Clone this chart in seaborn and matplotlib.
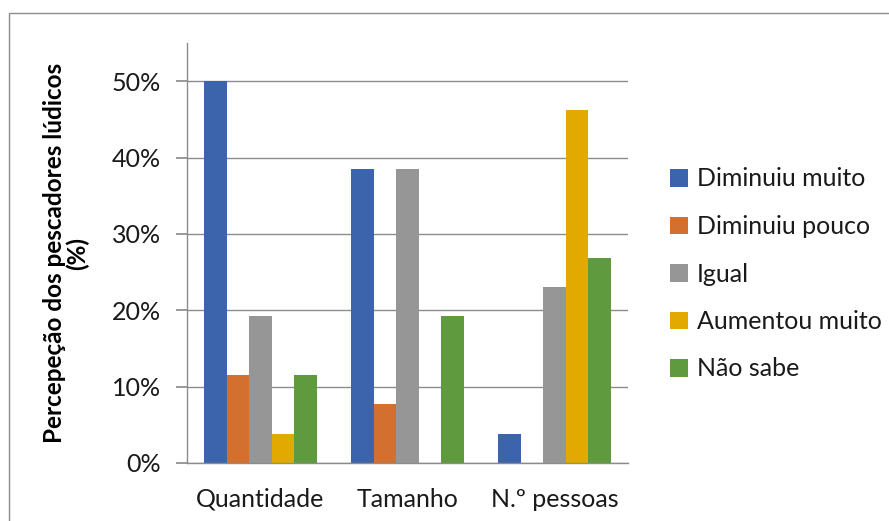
import pandas as pd
import matplotlib.pyplot as plt
import seaborn as sns
from matplotlib.patches import Rectangle
from matplotlib.ticker import PercentFormatter

# data (% of respondents)
categories = ["Quantidade", "Tamanho", "N.º pessoas"]
answers = ["Diminuiu muito", "Diminuiu pouco", "Igual", "Aumentou muito", "Não sabe"]
diminuiu_muito = [50.0, 38.5, 3.8]
diminuiu_pouco = [11.5, 7.7, 0.0]
igual = [19.2, 38.5, 23.1]
aumentou_muito = [3.8, 0.0, 46.2]
nao_sabe = [11.5, 19.2, 26.9]

colors = ["#3c64ad", "#d4702f", "#969696", "#e2aa00", "#5f9a3f"]

series = [diminuiu_muito, diminuiu_pouco, igual, aumentou_muito, nao_sabe]
rows = []
for ans, vals in zip(answers, series):
    for cat, v in zip(categories, vals):
        rows.append({"categoria": cat, "resposta": ans, "valor": v})
df = pd.DataFrame(rows)

sns.set_theme(style="white")
plt.rcParams["font.family"] = ["Lato", "DejaVu Sans"]

fig = plt.figure(figsize=(8.89, 5.21), dpi=100)
ax = fig.add_axes([187 / 889, 58 / 521, 441 / 889, 420 / 521])

sns.barplot(data=df, x="categoria", y="valor", hue="resposta", order=categories,
            hue_order=answers, palette=colors, width=0.77, saturation=1,
            linewidth=0, ax=ax)

ax.set_ylim(0, 55)
ax.set_yticks([0, 10, 20, 30, 40, 50])
ax.yaxis.set_major_formatter(PercentFormatter(decimals=0))
ax.yaxis.grid(True, color="#8c8c8c", linewidth=1)
ax.set_axisbelow(True)
for s in ["top", "right"]:
    ax.spines[s].set_visible(False)
for s in ["left", "bottom"]:
    ax.spines[s].set_color("#8c8c8c")
    ax.spines[s].set_linewidth(1)
ax.tick_params(axis="y", left=True, length=8, color="#8c8c8c", labelsize=18,
               labelcolor="#1a1a1a", pad=11)
ax.tick_params(axis="x", bottom=False, labelsize=18, labelcolor="#1a1a1a", pad=12)
ax.set_xlabel("")
ax.set_ylabel("Percepeção dos pescadores lúdicos\n(%)", fontsize=17.5,
              fontweight="bold", labelpad=16, linespacing=1.0, color="black")

ax.legend(loc="center left", bbox_to_anchor=(1.045, 0.45), frameon=False,
          fontsize=18, handlelength=0.7, handleheight=0.7, handletextpad=0.35,
          labelspacing=0.98, labelcolor="#1a1a1a")

# outer chart border
fig.patches.append(Rectangle((9 / 889, -0.1), 1.2, 1 - 13 / 521 + 0.1,
                             transform=fig.transFigure, fill=False,
                             edgecolor="#8c8c8c", linewidth=1))

plt.savefig("out.png", dpi=100)
